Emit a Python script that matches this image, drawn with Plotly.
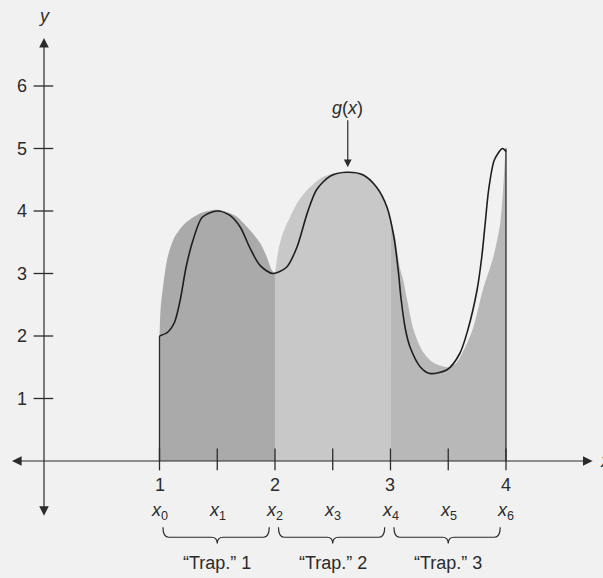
import plotly.graph_objects as go

# curve g(x)
curve_x = [1.00, 1.07, 1.13, 1.18, 1.23, 1.29, 1.37, 1.50, 1.61, 1.70, 1.78, 1.87, 1.98,
           2.10, 2.19, 2.28, 2.36, 2.48, 2.62, 2.76, 2.88, 2.97, 3.03, 3.07, 3.09, 3.13,
           3.17, 3.26, 3.34, 3.49, 3.60, 3.67, 3.75, 3.79, 3.82, 3.85, 3.90, 3.97, 4.00]
curve_y = [2.00, 2.06, 2.22, 2.58, 3.10, 3.53, 3.90, 4.00, 3.93, 3.74, 3.42, 3.13, 3.00,
           3.10, 3.42, 3.97, 4.34, 4.56, 4.62, 4.58, 4.38, 4.06, 3.58, 3.00, 2.62, 2.10,
           1.82, 1.50, 1.40, 1.46, 1.72, 2.10, 2.74, 3.26, 3.80, 4.34, 4.82, 5.00, 4.95]

# shaded "trap" tops
trap1_x = [1.00, 1.01, 1.03, 1.07, 1.13, 1.22, 1.35, 1.50, 1.65, 1.76, 1.87, 1.93, 1.97, 2.00]
trap1_y = [2.00, 2.45, 2.78, 3.26, 3.58, 3.80, 3.96, 4.02, 3.93, 3.74, 3.49, 3.26, 3.06, 3.00]
trap2_x = [2.00, 2.03, 2.07, 2.13, 2.20, 2.28, 2.41, 2.55, 2.62, 2.76, 2.88, 2.97, 3.00]
trap2_y = [3.00, 3.38, 3.65, 3.90, 4.15, 4.34, 4.54, 4.62, 4.63, 4.58, 4.38, 4.06, 3.88]
trap3_x = [3.00, 3.04, 3.08, 3.11, 3.14, 3.20, 3.27, 3.35, 3.42, 3.50, 3.56, 3.62, 3.71,
           3.80, 3.89, 3.95, 3.975, 3.99, 4.00]
trap3_y = [3.88, 3.58, 3.10, 2.90, 2.62, 2.10, 1.78, 1.60, 1.53, 1.50, 1.55, 1.72, 2.10,
           2.74, 3.26, 3.80, 4.34, 4.80, 5.00]
trap_colors = ["#aaaaaa", "#c8c8c8", "#b8b8b8"]
trap_labels = ["\u201cTrap.\u201d 1", "\u201cTrap.\u201d 2", "\u201cTrap.\u201d 3"]

nodes = [1.0, 1.5, 2.0, 2.5, 3.0, 3.5, 4.0]
node_labels = ["x<sub>%d</sub>" % i for i in range(7)]
x_tick_vals = [1, 2, 3, 4]
y_tick_vals = [1, 2, 3, 4, 5, 6]

FONT = "Liberation Sans Narrow, Arial Narrow, Liberation Sans, sans-serif"
INK = "#2b2b2b"

fig = go.Figure()

for tx, ty, col in zip([trap1_x, trap2_x, trap3_x], [trap1_y, trap2_y, trap3_y], trap_colors):
    fig.add_trace(go.Scatter(x=tx, y=ty, mode="lines", fill="tozeroy", fillcolor=col,
                             line=dict(width=0, shape="spline", smoothing=0.8),
                             hoverinfo="skip"))

# edges of the shaded area
fig.add_trace(go.Scatter(x=[curve_x[0], curve_x[0], None, nodes[-1], nodes[-1]],
                         y=[0, curve_y[0], None, 0, trap3_y[-1]],
                         mode="lines", line=dict(color=INK, width=1.3), hoverinfo="skip"))

fig.add_trace(go.Scatter(x=curve_x, y=curve_y, mode="lines",
                         line=dict(color="#1e1e1e", width=1.6, shape="spline", smoothing=0.8)))

# tick marks
tx, ty = [], []
for v in nodes:
    tx += [v, v, None]
    ty += [-0.15, 0.2, None]
for v in y_tick_vals:
    tx += [-0.09, 0.08, None]
    ty += [v, v, None]
fig.add_trace(go.Scatter(x=tx, y=ty, mode="lines", line=dict(color=INK, width=1.3),
                         hoverinfo="skip"))

# axes with arrowheads
fig.add_annotation(x=4.75, y=0, ax=-0.29, ay=0, axref="x", ayref="y", xref="x", yref="y",
                   text="", showarrow=True, arrowside="end+start", arrowhead=2,
                   startarrowhead=2, arrowsize=1.6, startarrowsize=1.6,
                   arrowwidth=1.2, arrowcolor=INK)
fig.add_annotation(x=0, y=6.77, ax=0, ay=-0.9, axref="x", ayref="y", xref="x", yref="y",
                   text="", showarrow=True, arrowside="end+start", arrowhead=2,
                   startarrowhead=2, arrowsize=1.6, startarrowsize=1.6,
                   arrowwidth=1.2, arrowcolor=INK)

# g(x) pointer
fig.add_annotation(x=2.63, y=4.70, ax=2.63, ay=5.45, axref="x", ayref="y",
                   text="<i>g</i>(<i>x</i>)", showarrow=True, arrowhead=2, arrowsize=1.3,
                   arrowwidth=1.2, arrowcolor=INK, yanchor="bottom",
                   font=dict(family=FONT, size=18, color=INK))

txt = dict(family=FONT, size=18, color=INK)
for v in x_tick_vals:
    fig.add_annotation(x=v, y=-0.38, text=str(v), showarrow=False, font=txt)
for v in y_tick_vals:
    fig.add_annotation(x=-0.19, y=v, text=str(v), showarrow=False, font=txt)
for v, lab in zip(nodes, node_labels):
    fig.add_annotation(x=v, y=-0.8, text="<i>%s</i>" % lab.replace("<sub>", "</i><sub>"),
                       showarrow=False, font=txt)
fig.add_annotation(x=0, y=7.12, text="<i>y</i>", showarrow=False, font=txt)
fig.add_annotation(x=4.80, y=0.0, text="<i>x</i>", showarrow=False, xanchor="left", font=txt)

# braces under each pair of subintervals
y_top, y_mid, y_tip = -1.06, -1.22, -1.32
for k in range(3):
    a = nodes[2 * k] + 0.03
    b = nodes[2 * k + 2] - 0.05
    m = nodes[2 * k + 1]
    d = 0.05
    path = (f"M {a},{y_top} Q {a},{y_mid} {a + d},{y_mid} L {m - d},{y_mid} "
            f"Q {m},{y_mid} {m},{y_tip} Q {m},{y_mid} {m + d},{y_mid} "
            f"L {b - d},{y_mid} Q {b},{y_mid} {b},{y_top}")
    fig.add_shape(type="path", path=path, xref="x", yref="y",
                  line=dict(color=INK, width=1.2))
    fig.add_annotation(x=m, y=-1.63, text=trap_labels[k], showarrow=False, font=txt)

fig.update_xaxes(visible=False, range=[-0.381, 4.840], fixedrange=True)
fig.update_yaxes(visible=False, range=[-1.872, 7.376], fixedrange=True)
fig.update_layout(width=603, height=578, margin=dict(l=0, r=0, t=0, b=0),
                  showlegend=False, paper_bgcolor="#f1f1f1", plot_bgcolor="#f1f1f1")

# the page's default body margin would push the figure 8px off
fig.write_html("out.html", config={"displayModeBar": False},
               post_script="document.body.style.margin='0';document.body.style.overflow='hidden';")
